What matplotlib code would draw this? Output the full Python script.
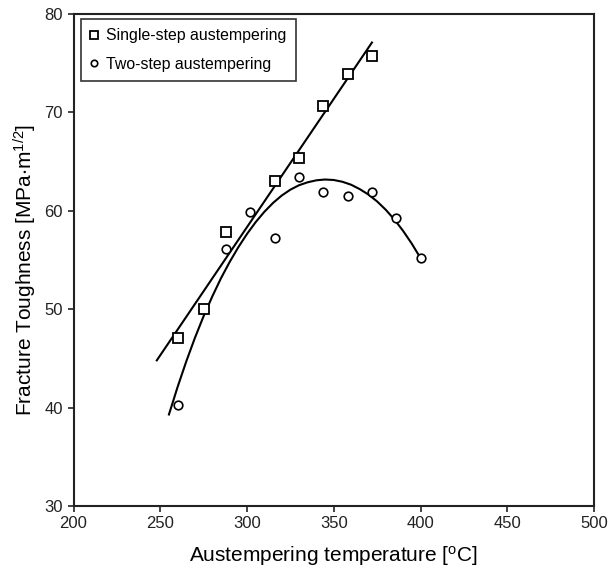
import matplotlib
matplotlib.use("Agg")
import matplotlib.pyplot as plt
import numpy as np

plt.rcParams['font.family'] = ['Liberation Sans', 'DejaVu Sans']
plt.rcParams['mathtext.default'] = 'regular'

# single-step austempering (squares)
t_single = [260, 275, 288, 316, 330, 344, 358, 372]
k_single = [47.1, 50.0, 57.8, 63.0, 65.4, 70.7, 73.9, 75.7]

# two-step austempering (circles)
t_two = [260, 288, 302, 316, 330, 344, 358, 372, 386, 400]
k_two = [40.3, 56.1, 59.9, 57.2, 63.4, 61.9, 61.5, 61.9, 59.3, 55.2]

# linear trend line, end points
line_t = [248, 372]
line_k = [44.8, 77.1]

# curved trend line for two-step data
curve_t = [255, 260, 265, 270, 275, 280, 285, 290, 295, 300,
           305, 310, 315, 320, 325, 330, 335, 340, 345, 350,
           355, 360, 365, 370, 375, 380, 385, 390, 395, 400]
curve_k = [39.3, 42.1, 44.7, 47.1, 49.3, 51.3, 53.15, 54.8, 56.3, 57.65,
           58.85, 59.9, 60.8, 61.55, 62.15, 62.6, 62.9, 63.1, 63.18, 63.13,
           62.95, 62.65, 62.2, 61.65, 60.95, 60.1, 59.1, 57.95, 56.65, 55.2]


def plot():
    fig = plt.figure(figsize=(6.08, 5.71), dpi=100)
    ax = fig.add_axes([0.1209, 0.1138, 0.8561, 0.8617])

    ax.plot(line_t, line_k, color='black', lw=1.5)
    ax.plot(curve_t, curve_k, color='black', lw=1.5)

    ax.plot(t_single, k_single, 's', ms=6.8, mfc='white', mec='black', mew=1.3,
            label='Single-step austempering')
    ax.plot(t_two, k_two, 'o', ms=6.2, mfc='white', mec='black', mew=1.2,
            label='Two-step austempering')

    ax.set_xlim(200, 500)
    ax.set_ylim(30, 80)
    ax.set_xticks(np.arange(200, 501, 50))
    ax.set_yticks(np.arange(30, 81, 10))
    ax.tick_params(axis='both', labelsize=12, direction='out', length=4, width=1.2,
                   colors='#222222')
    for s in ax.spines.values():
        s.set_linewidth(1.5)
        s.set_color('#222222')

    ax.set_xlabel('Austempering temperature [$^{o}$C]', fontsize=15, labelpad=9)
    ax.set_ylabel('Fracture Toughness [MPa$\\cdot$m$^{1/2}$]', fontsize=15, labelpad=8)
    ax.yaxis.set_label_coords(-0.067, 0.48)

    leg = ax.legend(loc='upper left', fontsize=11.4, frameon=True, fancybox=False,
                    edgecolor='black', markerscale=0.75, handlelength=0.5,
                    handletextpad=0.5, borderpad=0.6, labelspacing=0.85,
                    borderaxespad=0, bbox_to_anchor=(0.0135, 0.99))
    leg.get_frame().set_linewidth(1.2)

    fig.savefig('out.png', dpi=100)


if __name__ == '__main__':
    plot()
